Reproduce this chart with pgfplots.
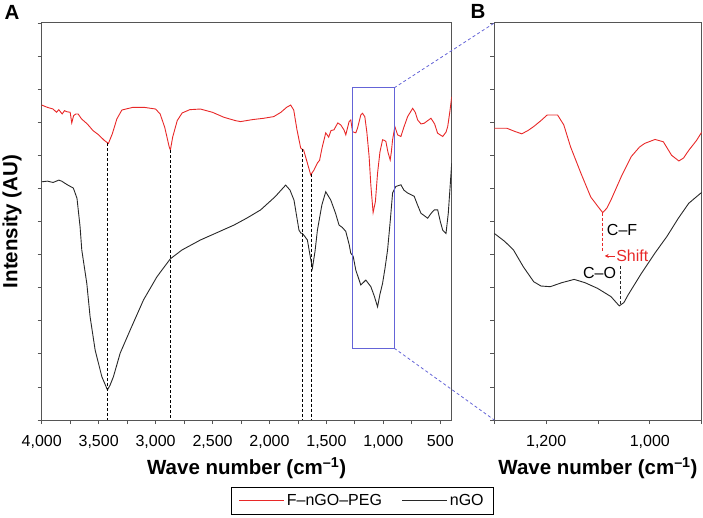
\documentclass[border=0pt]{standalone}
\usepackage{pgfplots}
\pgfplotsset{compat=1.18}
\usetikzlibrary{arrows.meta}
\usepackage{fontspec}
\setmainfont{Liberation Sans}
\definecolor{specred}{RGB}{232,40,40}
\definecolor{boxblue}{RGB}{100,100,215}
\definecolor{axgray}{RGB}{85,85,85}
\definecolor{curveblack}{RGB}{40,40,40}

\pgfplotsset{
 myaxis/.style={
  scale only axis, height=397pt, x dir=reverse, ymin=0, ymax=12,
  axis line style={axgray, line width=1pt},
  every tick/.style={axgray, line width=0.8pt},
  tick align=outside, xtick pos=bottom, ytick pos=left,
  major tick length=4pt, minor tick length=4pt,
  ytick={0,...,12}, yticklabels={},
  /pgf/number format/assume math mode=true,
  /pgf/number format/1000 sep={,},
  ticklabel style={font=\fontsize{16}{18}\selectfont},
  xticklabel style={yshift=-8pt},
  xlabel={Wave number (cm\textsuperscript{–1})},
  xlabel style={at={(axis description cs:0.5,0)}, anchor=center, yshift=-48pt, font=\bfseries\fontsize{20.5}{24}\selectfont},
  clip=true,
 }
}

\begin{document}
\begin{tikzpicture}
\path[use as bounding box] (-41.7pt,-97pt) rectangle (661.3pt,420pt);

\begin{axis}[myaxis, at={(0pt,0pt)}, anchor=south west, width=410pt,
  xmin=400, xmax=4000, xtick={500,1000,...,4000}, minor xtick={750,1250,...,3750},
  ylabel={Intensity (AU)},
  ylabel style={at={(axis description cs:-0.0724,0.5)}, anchor=center, font=\bfseries\fontsize{20.5}{24}\selectfont},
  legend style={at={(axis description cs:0.782,-0.168)}, anchor=north, legend columns=2, draw=black, line width=0.6pt,
    font=\fontsize{16}{18}\selectfont, /tikz/every even column/.append style={column sep=18pt}, inner xsep=8pt, inner ysep=5.5pt},
  legend image code/.code={\draw[#1] (0pt,0pt) -- (45pt,0pt);},
]
\addplot[specred, line width=0.9pt] coordinates {
(4000,9.52)(3950,9.45)(3900,9.40)(3870,9.30)(3850,9.38)(3820,9.25)(3800,9.35)(3780,9.32)(3750,9.30)
(3736,8.98)(3720,9.20)(3700,9.25)(3680,9.25)(3650,9.10)(3600,8.95)(3550,8.75)(3500,8.62)(3450,8.45)
(3414,8.36)(3380,8.65)(3340,9.10)(3296,9.37)(3200,9.45)(3100,9.45)(3000,9.40)(2960,9.25)(2920,8.85)
(2880,8.25)(2870,8.16)(2850,8.55)(2810,9.05)(2767,9.28)(2700,9.38)(2607,9.40)(2500,9.30)(2400,9.15)
(2300,9.05)(2254,9.02)(2150,9.08)(2050,9.12)(1963,9.17)(1900,9.30)(1850,9.45)(1814,9.52)(1787,9.37)
(1760,8.80)(1726,8.22)(1711,8.18)(1700,8.16)(1670,7.80)(1638,7.41)(1610,7.55)(1579,7.77)(1560,7.85)
(1540,8.20)(1506,8.68)(1480,8.55)(1460,8.75)(1434,8.77)(1400,8.98)(1374,8.92)(1346,8.77)(1330,8.62)
(1301,9.02)(1286,9.07)(1271,8.72)(1260,8.70)(1242,8.68)(1227,8.82)(1198,9.22)(1183,9.27)(1163,9.17)
(1145,8.70)(1125,7.96)(1110,7.10)(1090,6.27)(1070,6.60)(1051,7.46)(1030,8.10)(1007,8.47)(990,8.45)
(978,8.42)(960,8.10)(940,7.86)(930,8.10)(919,8.47)(899,8.87)(875,8.62)(846,8.57)(820,8.85)(787,9.17)
(743,9.42)(720,9.30)(699,9.07)(670,8.95)(641,8.97)(610,9.05)(582,9.12)(550,8.95)(524,8.67)(479,8.57)
(450,8.70)(435,8.87)(415,9.35)(400,9.77)
};
\addlegendentry{F–nGO–PEG}
\addplot[curveblack, line width=0.9pt] coordinates {
(4000,7.20)(3950,7.22)(3900,7.18)(3850,7.25)(3824,7.22)(3780,7.12)(3722,7.01)(3690,6.70)(3663,5.84)
(3648,5.14)(3604,4.13)(3575,3.12)(3531,2.12)(3472,1.31)(3440,1.05)(3423,0.91)(3400,1.05)(3370,1.31)
(3311,2.02)(3223,2.72)(3106,3.63)(2988,4.33)(2871,4.87)(2768,5.14)(2607,5.44)(2450,5.68)(2313,5.89)
(2200,6.10)(2078,6.35)(1950,6.75)(1858,7.10)(1820,6.95)(1785,6.65)(1741,5.74)(1725,5.65)(1711,5.64)
(1690,5.55)(1667,5.44)(1645,5.00)(1623,4.59)(1600,5.10)(1579,5.74)(1540,6.50)(1506,6.90)(1480,6.75)
(1462,6.65)(1420,6.25)(1389,5.89)(1360,5.82)(1330,5.70)(1300,5.30)(1286,5.04)(1265,4.95)(1242,4.53)
(1198,4.08)(1154,4.23)(1110,4.03)(1080,3.75)(1051,3.42)(1030,3.80)(1007,4.13)(985,4.60)(963,5.14)
(940,6.00)(919,6.86)(890,7.06)(846,7.11)(820,6.95)(787,6.86)(729,6.76)(700,6.50)(670,6.25)(611,6.10)
(580,6.25)(553,6.35)(523,6.35)(500,6.00)(479,5.74)(450,5.64)(430,6.25)(415,7.00)(400,7.76)
};
\addlegendentry{nGO}
\draw[black, line width=0.6pt, dash pattern=on 3pt off 2pt] (axis cs:3420,8.36) -- (axis cs:3420,0);
\draw[black, line width=0.6pt, dash pattern=on 3pt off 2pt] (axis cs:2870,8.16) -- (axis cs:2870,0);
\draw[black, line width=0.6pt, dash pattern=on 3pt off 2pt] (axis cs:1711,8.18) -- (axis cs:1711,0);
\draw[black, line width=0.6pt, dash pattern=on 3pt off 2pt] (axis cs:1630,7.45) -- (axis cs:1630,0);
\draw[boxblue, line width=0.9pt] (axis cs:1271,2.17) rectangle (axis cs:905,10.04);
\coordinate (bTR) at (axis cs:905,10.04);
\coordinate (bBR) at (axis cs:905,2.17);
\end{axis}

\begin{axis}[myaxis, at={(452.6pt,0pt)}, anchor=south west, width=207.4pt,
  xmin=900, xmax=1300, xtick={1000,1200}, minor xtick={900,1100,1300},
]
\addplot[specred, line width=0.9pt] coordinates {
(1300,8.82)(1276,8.82)(1260,8.72)(1247,8.65)(1235,8.75)(1224,8.87)(1210,9.05)(1198,9.22)(1178,9.22)
(1166,8.92)(1153,8.26)(1133,7.46)(1114,6.74)(1100,6.45)(1091,6.27)(1083,6.40)(1075,6.65)(1055,7.36)
(1036,7.96)(1020,8.25)(1010,8.36)(990,8.48)(974,8.41)(958,8.00)(944,7.83)(935,7.92)(925,8.15)
(910,8.45)(900,8.70)
};
\addplot[curveblack, line width=0.9pt] coordinates {
(1300,5.64)(1280,5.40)(1263,5.14)(1244,4.63)(1224,4.18)(1210,4.05)(1192,4.03)(1170,4.15)(1146,4.25)
(1125,4.15)(1101,3.98)(1075,3.73)(1059,3.45)(1050,3.55)(1042,3.78)(1016,4.44)(990,5.05)(967,5.55)
(945,6.10)(925,6.55)(910,6.75)(900,6.88)
};
\draw[specred, line width=0.7pt, dash pattern=on 3pt off 2pt] (axis cs:1091,6.27) -- (axis cs:1091,5.10);
\draw[curveblack, line width=0.7pt, dash pattern=on 3pt off 2pt] (axis cs:1057,4.65) -- (axis cs:1057,3.47);
\node[anchor=west, font=\fontsize{16}{18}\selectfont, inner sep=1pt] at (axis cs:1085,5.74) {C–F};
\draw[specred, line width=0.8pt, -{Stealth[length=4pt,width=4pt]}] (axis cs:1068,4.96) -- (axis cs:1087,4.96);
\node[anchor=west, text=specred, font=\fontsize{16}{18}\selectfont, inner sep=1pt] at (axis cs:1067,4.96) {Shift};
\node[anchor=east, font=\fontsize{16}{18}\selectfont, inner sep=1pt] at (axis cs:1063,4.45) {C–O};
\coordinate (BTL) at (rel axis cs:0,1);
\coordinate (BBL) at (rel axis cs:0,0);
\end{axis}

\draw[boxblue, line width=0.8pt, dash pattern=on 3pt off 2.5pt] (bTR) -- (BTL);
\draw[boxblue, line width=0.8pt, dash pattern=on 3pt off 2.5pt] (bBR) -- (BBL);

\node[font=\bfseries\fontsize{20.5}{24}\selectfont] at (-29.7pt,408pt) {A};
\node[font=\bfseries\fontsize{20.5}{24}\selectfont] at (436.3pt,409pt) {B};
\end{tikzpicture}
\end{document}
